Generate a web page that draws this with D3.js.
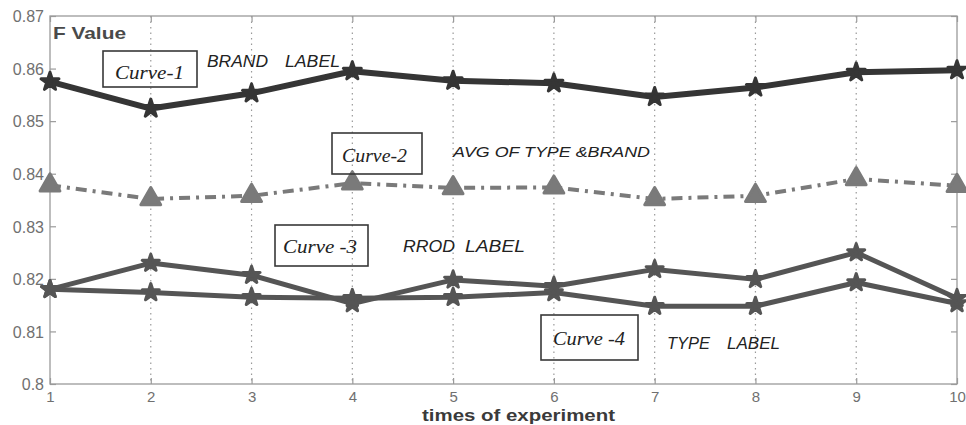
<!DOCTYPE html>
<html><head><meta charset="utf-8">
<script src="https://cdn.jsdelivr.net/npm/d3@7"></script>
<style>html,body{margin:0;padding:0;background:#fff;}svg{display:block;}</style>
</head><body>
<svg id="chart" width="966" height="425"></svg>
<script>
const experiments = [1,2,3,4,5,6,7,8,9,10];
const curve1 = [0.8575,0.8524,0.8553,0.8595,0.8577,0.8572,0.8546,0.8564,0.8593,0.8597];
const curve2 = [0.8378,0.8352,0.8358,0.8382,0.8373,0.8374,0.8352,0.8358,0.8390,0.8377];
const curve3 = [0.8180,0.8230,0.8207,0.8153,0.8198,0.8186,0.8218,0.8199,0.8250,0.8163];
const curve4 = [0.8180,0.8174,0.8165,0.8163,0.8165,0.8174,0.8148,0.8148,0.8193,0.8153];
const yTicks = [0.8,0.81,0.82,0.83,0.84,0.85,0.86,0.87];
const yTickLabels = ["0.8","0.81","0.82","0.83","0.84","0.85","0.86","0.87"];
const xTickLabels = ["1","2","3","4","5","6","7","8","9","10"];

const svg = d3.select("#chart");
const x = d3.scaleLinear().domain([1,10]).range([50,957]);
const y = d3.scaleLinear().domain([0.8,0.87]).range([384,16]);

// vertical dotted grid
svg.append("g").selectAll("line").data(experiments.slice(1,-1)).join("line")
  .attr("x1",d=>x(d)).attr("x2",d=>x(d)).attr("y1",y(0.87)).attr("y2",y(0.8))
  .attr("stroke","#9a9a9a").attr("stroke-width",1.2).attr("stroke-dasharray","1.5,4");

// frame
svg.append("rect").attr("x",x(1)).attr("y",y(0.87)).attr("width",x(10)-x(1)).attr("height",y(0.8)-y(0.87))
  .attr("fill","none").attr("stroke","#9a9a9a").attr("stroke-width",1.3);

// axes
const yAxis = d3.axisLeft(y).tickValues(yTicks).tickFormat((d,i)=>yTickLabels[i]).tickSizeInner(-6).tickSizeOuter(0).tickPadding(6);
const gy = svg.append("g").attr("transform",`translate(${x(1)},0)`).call(yAxis);
const yAxisR = d3.axisRight(y).tickValues(yTicks).tickFormat("").tickSizeInner(-6).tickSizeOuter(0);
const gyr = svg.append("g").attr("transform",`translate(${x(10)},0)`).call(yAxisR);
const xAxis = d3.axisBottom(x).tickValues(experiments).tickFormat((d,i)=>xTickLabels[i]).tickSizeInner(-6).tickSizeOuter(0).tickPadding(9);
const gx = svg.append("g").attr("transform",`translate(0,${y(0.8)})`).call(xAxis);
const xAxisT = d3.axisTop(x).tickValues(experiments).tickFormat("").tickSizeInner(-6).tickSizeOuter(0);
const gxt = svg.append("g").attr("transform",`translate(0,${y(0.87)})`).call(xAxisT);
[gy,gyr,gx,gxt].forEach(g=>{
  g.select(".domain").remove();
  g.selectAll(".tick line").attr("stroke","#9a9a9a").attr("stroke-width",1.2);
  g.selectAll(".tick text").attr("fill","#707070").attr("font-family","Liberation Sans, Arial, sans-serif").attr("font-size",16);
});
gy.selectAll(".tick text").attr("dy","0.36em");
gx.selectAll(".tick text").attr("font-size",15).attr("dy","0.62em");

// lines
const line = d3.line().x((d,i)=>x(experiments[i])).y(d=>y(d));
function drawCurve(vals,color,width,dash,marker,msize){
  svg.append("path").datum(vals).attr("d",line).attr("fill","none")
    .attr("stroke",color).attr("stroke-width",width).attr("stroke-linejoin","round")
    .attr("stroke-dasharray",dash||null);
  svg.append("g").selectAll("path").data(vals).join("path")
    .attr("transform",(d,i)=>`translate(${x(experiments[i])},${y(d)})`)
    .attr("d",d3.symbol().type(marker).size(msize)).attr("fill",color).attr("stroke",color)
    .attr("stroke-width",3).attr("stroke-linejoin","round");
}
drawCurve(curve3,"#555555",5,null,d3.symbolStar,90);
drawCurve(curve4,"#555555",5,null,d3.symbolStar,90);
drawCurve(curve2,"#7a7a7a",4,"11,6,3,6",d3.symbolTriangle,170);
drawCurve(curve1,"#353535",6,null,d3.symbolStar,100);

// texts
const sans = "Liberation Sans, Arial, sans-serif";
const serif = "Liberation Serif, Times New Roman, serif";
function txt(t,xx,yy,opts){
  const e = svg.append("text").attr("x",xx).attr("y",yy).text(t)
    .attr("font-family",opts.family||sans).attr("font-size",opts.size||16)
    .attr("fill",opts.fill||"#333");
  if(opts.weight) e.attr("font-weight",opts.weight);
  if(opts.italic) e.attr("font-style","italic");
  if(opts.len) e.attr("textLength",opts.len).attr("lengthAdjust","spacingAndGlyphs");
  if(opts.anchor) e.attr("text-anchor",opts.anchor);
  return e;
}
txt("F Value",53,39,{size:17,weight:"bold",fill:"#4a4a4a",len:73});
txt("times of experiment",422,421,{size:16,weight:"bold",fill:"#3a3a3a",len:193});

function box(x0,y0,x1,y1){
  svg.append("rect").attr("x",x0).attr("y",y0).attr("width",x1-x0).attr("height",y1-y0)
    .attr("fill","none").attr("stroke","#383838").attr("stroke-width",1.6);
}
const lab = "#222";
box(103,51,197,87);   txt("Curve-1",115,79,{family:serif,italic:true,size:18,len:69,fill:lab});
box(332,133,422,174); txt("Curve-2",342,162,{family:serif,italic:true,size:18,len:65,fill:lab});
box(275,225,368,266); txt("Curve -3",283,253,{family:serif,italic:true,size:18,len:74,fill:lab});
box(541,315,638,360); txt("Curve -4",553,345,{family:serif,italic:true,size:18,len:72,fill:lab});

txt("BRAND",207,67,{italic:true,size:16,len:61,fill:lab});
txt("LABEL",285,67,{italic:true,size:16,len:55,fill:lab});
txt("AVG OF TYPE &BRAND",453,157,{italic:true,size:15,len:197,fill:lab});
txt("RROD",403,252,{italic:true,size:16,len:52,fill:lab});
txt("LABEL",465,252,{italic:true,size:16,len:60,fill:lab});
txt("TYPE",667,349,{italic:true,size:16,len:43,fill:lab});
txt("LABEL",727,349,{italic:true,size:16,len:53,fill:lab});
</script>
</body></html>
